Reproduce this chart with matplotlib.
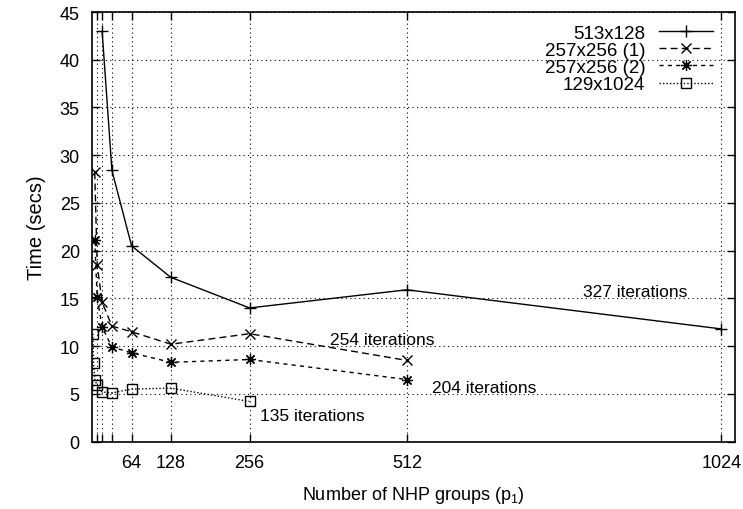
import numpy as np
import matplotlib.pyplot as plt

plt.rcParams['font.family'] = ['Liberation Sans', 'DejaVu Sans']
plt.rcParams['font.size'] = 12
plt.rcParams['mathtext.fontset'] = 'custom'
plt.rcParams['mathtext.rm'] = 'Liberation Sans'

# timings per grid size
p_513x128 = [16, 32, 64, 128, 256, 512, 1024]
t_513x128 = [43.0, 28.4, 20.5, 17.2, 14.0, 15.9, 11.8]

p_257x256_1 = [4, 8, 16, 32, 64, 128, 256, 512]
t_257x256_1 = [28.2, 18.5, 14.6, 12.1, 11.5, 10.2, 11.3, 8.5]

p_257x256_2 = [4, 8, 16, 32, 64, 128, 256, 512]
t_257x256_2 = [21.1, 15.1, 12.0, 9.9, 9.3, 8.3, 8.6, 6.5]

p_129x1024 = [1, 2, 4, 8, 16, 32, 64, 128, 256]
t_129x1024 = [11.3, 8.2, 6.5, 5.9, 5.2, 5.1, 5.5, 5.6, 4.2]

xtick_pos = [8, 16, 32, 64, 128, 256, 512, 1024]
xtick_lab = ['', '', '', '64', '128', '256', '512', '1024']

notes = ['327 iterations', '254 iterations', '204 iterations', '135 iterations']
note_x = [799, 387, 553, 273]
note_y = [15.7, 10.65, 5.7, 2.7]

fig = plt.figure(figsize=(7.43, 5.10), dpi=100)
ax = fig.add_axes([0.1242, 0.1322, 0.8650, 0.8423])

ax.plot(p_513x128, t_513x128, '-', color='black', lw=1.0,
        marker='+', ms=9, mew=1.0, label='513x128')
ax.plot(p_257x256_1, t_257x256_1, color='black', lw=1.0, dashes=(5, 3),
        marker='x', ms=7, mew=1.0, label='257x256 (1)')
ax.plot(p_257x256_2, t_257x256_2, color='black', lw=1.0, dashes=(3, 3),
        marker=(8, 2, 0), ms=8, mew=0.9, label='257x256 (2)')
ax.plot(p_129x1024, t_129x1024, color='black', lw=1.0, dashes=(1, 1.5),
        marker='s', ms=7.5, mew=1.0, mfc='none', label='129x1024')

for s, x, y in zip(notes, note_x, note_y):
    ax.text(x, y, s, ha='left', va='center', fontsize=12.5)

ax.set_xlim(0, 1046)
ax.set_ylim(0, 45)
ax.set_xticks(xtick_pos)
ax.set_xticklabels(xtick_lab)
ax.set_yticks(np.arange(0, 46, 5))
ax.tick_params(direction='in', top=True, right=True, length=6, width=1,
               pad=9, labelsize=13)
ax.grid(True, color='black', ls=(0, (1, 3)), lw=0.8)
for sp in ax.spines.values():
    sp.set_linewidth(1.2)

ax.set_xlabel('Number of NHP groups (p$_1$)', labelpad=9, fontsize=13)
ax.set_ylabel('Time (secs)', labelpad=10, fontsize=14.5)

leg = ax.legend(loc='upper right', bbox_to_anchor=(0.992, 1.01), frameon=False,
                markerfirst=False, numpoints=1, handlelength=2.9,
                borderaxespad=0.5, labelspacing=0.0, handletextpad=0.7,
                fontsize=13.5)

plt.savefig('out.png', dpi=100)
